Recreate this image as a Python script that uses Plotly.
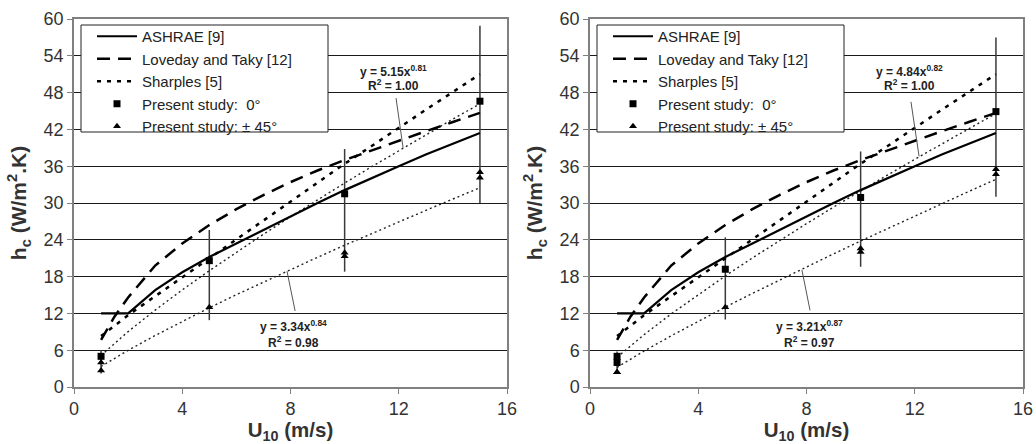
import plotly.graph_objects as go
from plotly.subplots import make_subplots

# ---------------- data ----------------
u_ashrae = [1, 2, 3, 4, 5, 6, 7, 8, 9, 10, 11, 12, 13, 14, 15]
h_ashrae = [12, 12, 15.8, 18.7, 21.2, 23.4, 25.7, 27.9, 30.0, 32.1, 34.1, 36.0, 37.9, 39.7, 41.4]

u_loveday = [1, 1.5, 2, 3, 4, 5, 6, 7, 8, 9, 10, 11, 12, 13, 14, 15]
h_loveday = [7.7, 11.5, 14.6, 19.8, 23.4, 26.4, 29.0, 31.3, 33.4, 35.3, 37.0, 38.6, 40.2, 41.7, 43.2, 44.7]

u_sharples = [1, 2, 3, 4, 5, 6, 7, 8, 9, 10, 11, 12, 13, 14, 15]
h_sharples = [8.3, 11.7, 14.8, 17.9, 20.9, 24.0, 27.1, 30.2, 33.3, 36.4, 39.3, 42.3, 45.2, 48.1, 51.0]

u_fit = [1, 2, 3, 4, 5, 6, 7, 8, 9, 10, 11, 12, 13, 14, 15]
# left panel fits
fitL_0 = [5.15, 9.03, 12.54, 15.83, 18.96, 21.98, 24.91, 27.75, 30.53, 33.25, 35.92, 38.54, 41.12, 43.67, 46.18]
fitL_45 = [3.34, 5.98, 8.40, 10.70, 12.91, 15.05, 17.12, 19.16, 21.15, 23.11, 25.03, 26.93, 28.80, 30.65, 32.49]
# right panel fits
fitR_0 = [4.84, 8.54, 11.92, 15.08, 18.11, 21.04, 23.87, 26.63, 29.33, 31.98, 34.58, 37.13, 39.65, 42.14, 44.59]
fitR_45 = [3.21, 5.87, 8.35, 10.72, 13.02, 15.26, 17.45, 19.60, 21.71, 23.80, 25.85, 27.89, 29.90, 31.89, 33.86]

# measured points
u_pts = [1, 5, 10, 15]
L_sq = [5.0, 20.6, 31.5, 46.6]
u_tri = [1, 1, 5, 10, 10, 15, 15]
L_tri = [2.7, 4.0, 13.0, 21.3, 21.9, 34.1, 35.0]
L_err_lo = [2.2, 10.9, 18.8, 30.0]
L_err_hi = [6.0, 25.6, 38.8, 58.9]

u_sq_R = [1, 1, 5, 10, 15]
R_sq = [4.0, 5.0, 19.2, 30.9, 44.9]
R_tri = [2.4, 2.4, 13.0, 22.0, 22.6, 34.7, 35.5]
R_err_lo = [2.4, 11.0, 19.6, 31.0]
R_err_hi = [5.8, 24.4, 38.4, 57.0]

fit_text = {
    "L": ["y = 5.15x<sup>0.81</sup>", "R<sup>2</sup> = 1.00", "y = 3.34x<sup>0.84</sup>", "R<sup>2</sup> = 0.98"],
    "R": ["y = 4.84x<sup>0.82</sup>", "R<sup>2</sup> = 1.00", "y = 3.21x<sup>0.87</sup>", "R<sup>2</sup> = 0.97"],
}

x_ticks = [0, 4, 8, 12, 16]
y_ticks = [0, 6, 12, 18, 24, 30, 36, 42, 48, 54, 60]

# ---------------- figure ----------------
fig = make_subplots(rows=1, cols=2)
FONT = "Arial, Liberation Sans, sans-serif"


def err_path(xs, lo, hi):
    px, py = [], []
    for x, a, b in zip(xs, lo, hi):
        px += [x, x, None]
        py += [a, b, None]
    return px, py


panels = [
    (1, "legend", fitL_0, fitL_45, u_pts, L_sq, L_tri, L_err_lo, L_err_hi),
    (2, "legend2", fitR_0, fitR_45, u_sq_R, R_sq, R_tri, R_err_lo, R_err_hi),
]

for col, leg, f0, f45, usq, sq, tri, elo, ehi in panels:
    ex, ey = err_path(u_pts, elo, ehi)
    fig.add_trace(go.Scatter(x=ex, y=ey, mode="lines", line=dict(color="#3a3a3a", width=1.5),
                             showlegend=False, hoverinfo="skip"), row=1, col=col)
    fig.add_trace(go.Scatter(x=u_fit, y=f0, mode="lines", line=dict(color="#222", width=1.4, dash="2px,3px"),
                             showlegend=False), row=1, col=col)
    fig.add_trace(go.Scatter(x=u_fit, y=f45, mode="lines", line=dict(color="#222", width=1.4, dash="2px,3px"),
                             showlegend=False), row=1, col=col)
    fig.add_trace(go.Scatter(x=u_ashrae, y=h_ashrae, mode="lines", name="ASHRAE [9]",
                             line=dict(color="black", width=2.2), legend=leg), row=1, col=col)
    fig.add_trace(go.Scatter(x=u_loveday, y=h_loveday, mode="lines", name="Loveday and Taky [12]",
                             line=dict(color="black", width=2.5, dash="13px,8px"), legend=leg), row=1, col=col)
    fig.add_trace(go.Scatter(x=u_sharples, y=h_sharples, mode="lines", name="Sharples [5]",
                             line=dict(color="black", width=2.5, dash="4px,6px"), legend=leg), row=1, col=col)
    fig.add_trace(go.Scatter(x=usq, y=sq, mode="markers", name="Present study:  0°",
                             marker=dict(symbol="square", size=7, color="black"), legend=leg), row=1, col=col)
    fig.add_trace(go.Scatter(x=u_tri, y=tri, mode="markers", name="Present study: ± 45°",
                             marker=dict(symbol="triangle-up", size=7, color="black"), legend=leg), row=1, col=col)

W, H = 1036, 444
xdom = [[74 / W, 507 / W], [590 / W, 1023 / W]]
ydom = [(H - 387) / H, (H - 19) / H]

axis_common = dict(showline=True, mirror=True, linecolor="#808080", linewidth=1.5,
                   ticks="outside", ticklen=5, tickcolor="#808080", tickwidth=1.2,
                   tickfont=dict(family=FONT, size=18, color="#333"), zeroline=False,
                   automargin=False)

for i, (xa, ya) in enumerate([("xaxis", "yaxis"), ("xaxis2", "yaxis2")]):
    fig.layout[xa].update(domain=xdom[i], range=[0, 16], tickvals=x_ticks, showgrid=False,
                          title=dict(text="<b>U<sub>10</sub> (m/s)</b>",
                                     font=dict(family=FONT, size=20.5, color="#333"), standoff=2),
                          **axis_common)
    fig.layout[ya].update(domain=ydom, range=[0, 60], tickvals=y_ticks, showgrid=True,
                          gridcolor="#1a1a1a", gridwidth=1.2,
                          title=dict(text="<b>h<sub>c</sub> (W/m<sup>2</sup>.K)</b>",
                                     font=dict(family=FONT, size=21, color="#333"), standoff=11),
                          **axis_common)

# legends (real plotly legends) inside a framed box
legend_style = dict(bgcolor="rgba(0,0,0,0)", borderwidth=0,
                    font=dict(family=FONT, size=15, color="#222"),
                    xanchor="left", yanchor="top", y=1 - 20 / H, tracegroupgap=0,
                    itemwidth=40)
fig.update_layout(
    legend=dict(x=92 / W, **legend_style),
    legend2=dict(x=608 / W, **legend_style),
)
for off in (0, 516):
    fig.add_shape(type="rect", xref="paper", yref="paper",
                  x0=(81 + off) / W, x1=(328 + off) / W, y0=1 - 132 / H, y1=1 - 25 / H,
                  fillcolor="white", line=dict(color="#222", width=1), layer="above")

# fit annotations and pointer lines
ann_pos = {"L": ("x", "y"), "R": ("x2", "y2")}
for key, (xr, yr) in ann_pos.items():
    t = fit_text[key]
    for txt, xx, yy in [(t[0], 11.8, 51.6), (t[1], 11.8, 49.2), (t[2], 8.1, 9.9), (t[3], 8.1, 7.4)]:
        fig.add_annotation(x=xx, y=yy, xref=xr, yref=yr, text="<b>" + txt + "</b>", showarrow=False,
                           font=dict(family=FONT, size=12, color="#222"))
    up = (11.9, 47.1, 12.16, 39.0) if key == "L" else (11.86, 46.5, 12.16, 37.6)
    lo = (7.87, 18.9, 8.17, 12.4) if key == "L" else (7.83, 19.1, 8.13, 12.5)
    for (x0, y0, x1, y1) in (up, lo):
        fig.add_shape(type="line", x0=x0, y0=y0, x1=x1, y1=y1, xref=xr, yref=yr,
                      line=dict(color="#555", width=1))

fig.update_layout(width=W, height=H, autosize=False, margin=dict(l=0, r=0, t=0, b=0),
                  paper_bgcolor="white", plot_bgcolor="white",
                  font=dict(family=FONT, color="#222"))

fig.write_html("out.html", config={"displayModeBar": False},
               post_script="document.body.style.margin='0';")
